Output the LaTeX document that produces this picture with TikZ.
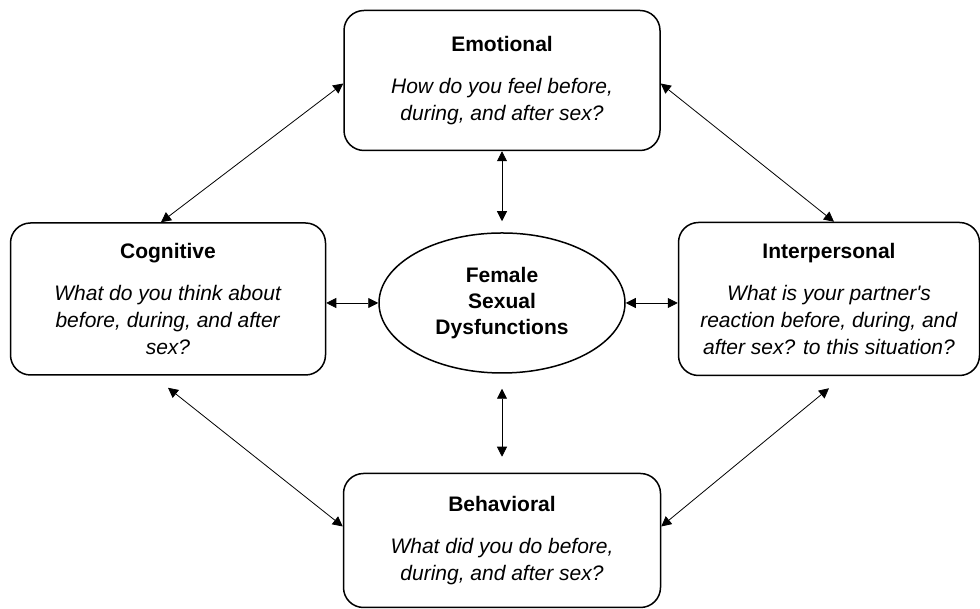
\documentclass[tikz,border=0pt]{standalone}
\usepackage{fontspec}
\setmainfont{Liberation Sans}
\usetikzlibrary{shapes,arrows.meta,positioning,calc}

\begin{document}
\begin{tikzpicture}[x=1pt,y=1pt,node distance=52pt,
    facet/.style={rectangle,draw,line width=1.5pt,rounded corners=20pt,
                  align=center,inner sep=0pt,
                  font=\fontsize{21}{27}\selectfont},
    core/.style={ellipse,draw,line width=1.5pt,minimum width=246pt,
                 minimum height=140pt,inner sep=0pt,align=center,
                 font=\fontsize{21}{26}\selectfont\bfseries},
    line/.style={draw,line width=0.8pt,
                 {Triangle[length=10pt,width=10pt]}-{Triangle[length=10pt,width=10pt]}}]
    \useasboundingbox (0,0) rectangle (980,609);
    \node[core](fsd) at (502,306){Female\\Sexual\\Dysfunctions};
    \node[facet,above=81pt of fsd,minimum width=316pt,minimum height=140pt](emo)
        {\textbf{Emotional}\\[15pt]\textit{How do you feel before,}\\
         \textit{during, and after sex?}};
    \node[facet,left=52pt of fsd,yshift=4pt,minimum width=315pt,minimum height=152pt](cog)
        {\textbf{Cognitive}\\[15pt]\textit{What do you think about}\\
         \textit{before, during, and after}\\\textit{sex?}};
    \node[facet,right=52pt of fsd,yshift=4pt,minimum width=301pt,minimum height=153pt](int)
        {\textbf{Interpersonal}\\[15pt]\textit{What is your partner\textquotesingle s}\\
         \textit{reaction before, during, and}\\\textit{after sex? to this situation?}};
    \node[facet,below=99pt of fsd,minimum width=317pt,minimum height=134pt](beh)
        {\textbf{Behavioral}\\[15pt]\textit{What did you do before,}\\
         \textit{during, and after sex?}};
    % diagonal links
    \draw[line]([yshift=-3pt]emo.west)--([xshift=-7pt]cog.north);
    \draw[line]([yshift=-3pt]emo.east)--([xshift=5pt]int.north);
    \draw[line]([yshift=-12pt]cog.south)--([yshift=14pt]beh.west);
    \draw[line]([yshift=-12pt]int.south)--([yshift=14pt]beh.east);
    % links to the centre
    \draw[line,shorten >=11pt](emo.south)--(fsd.north);
    \draw[line,shorten <=15pt,shorten >=16pt](fsd.south)--(beh.north);
    \draw[line](fsd.west -| cog.east)--(fsd.west);
    \draw[line](fsd.east)--(fsd.east -| int.west);
\end{tikzpicture}
\end{document}
